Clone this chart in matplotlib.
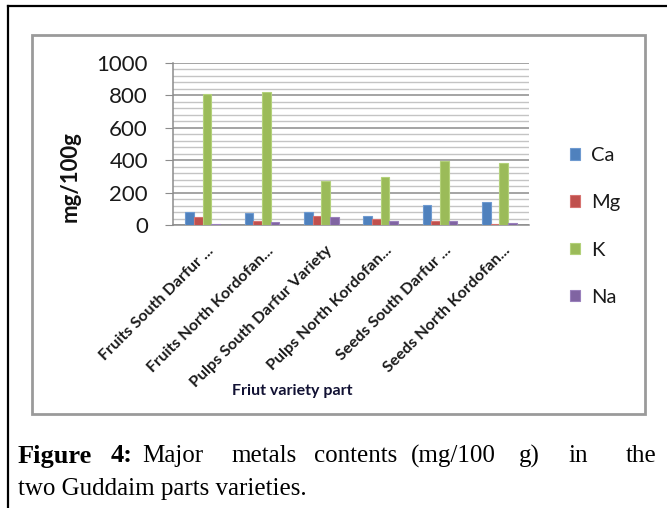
import numpy as np
import matplotlib.pyplot as plt
from matplotlib.patches import Rectangle
from matplotlib.lines import Line2D
import matplotlib.transforms as mtransforms

# data (mg/100g)
categories = ["Fruits South Darfur ...", "Fruits North Kordofan...",
              "Pulps South Darfur Variety", "Pulps North Kordofan...",
              "Seeds South Darfur ...", "Seeds North Kordofan..."]
metals = ["Ca", "Mg", "K", "Na"]
ca = [81, 72, 81, 58, 122, 139]
mg = [48, 23, 58, 39, 23, 8]
k = [807, 818, 271, 294, 393, 383]
na = [8, 17, 50, 23, 23, 10]
yticks = [0, 200, 400, 600, 800, 1000]

colors = ['#4F81BD', '#C0504D', '#9BBB59', '#8064A2']
edges = ['#6E9AD0', '#D77370', '#B3D17A', '#9A80BC']

plt.rcParams['font.family'] = ['Lato', 'DejaVu Sans']

fig = plt.figure(figsize=(6.67, 5.08), dpi=100)
W, H = 667, 508

# outer page frame (top + left) and grey chart box
fig.add_artist(Line2D([8 / W, 8 / W], [0, 1 - 6 / H], color='black', lw=1.6))
fig.add_artist(Line2D([8 / W, 1], [1 - 6 / H, 1 - 6 / H], color='black', lw=1.6))
fig.add_artist(Rectangle((32 / W, 1 - 414 / H), (645 - 32) / W, (414 - 35) / H,
                         fill=False, ec='#9a9a9a', lw=2))

ax = fig.add_axes([173 / W, 1 - 225 / H, (529 - 173) / W, (225 - 63) / H])

x = np.arange(len(categories))
bw = 0.145
series = [ca, mg, k, na]
for i, vals in enumerate(series):
    ax.bar(x + (i - 1.5) * bw, vals, bw, color=colors[i], edgecolor=edges[i],
           linewidth=0.8, label=metals[i], zorder=3)

ax.set_xlim(-0.5, len(categories) - 0.5)
ax.set_ylim(0, 1000)
ax.set_yticks(yticks)
ax.set_yticks(np.arange(0, 1001, 40), minor=True)
ax.grid(True, axis='y', which='major', color='#8c8c8c', lw=1.1, zorder=0)
ax.grid(True, axis='y', which='minor', color='#c4c4c4', lw=1.0, zorder=0)
for s in ['top', 'right']:
    ax.spines[s].set_visible(False)
ax.spines['left'].set_color('#8c8c8c')
ax.spines['bottom'].set_color('#8c8c8c')
ax.spines['left'].set_linewidth(1.1)
ax.spines['bottom'].set_linewidth(1.1)
ax.tick_params(axis='y', which='major', length=6, color='#8c8c8c', labelsize=16,
               labelcolor='#1a1a1a', pad=12)
ax.tick_params(axis='y', which='minor', length=0)
ax.tick_params(axis='x', length=0, pad=17)

ax.set_xticks(x)
ax.set_xticklabels(categories, rotation=45, ha='right', va='center',
                   rotation_mode='anchor', fontsize=11.6, fontweight='bold',
                   color='#1a1a1a')
offset = mtransforms.ScaledTranslation(9 / 100, 0, fig.dpi_scale_trans)
for lab in ax.get_xticklabels():
    lab.set_transform(lab.get_transform() + offset)

ax.set_ylabel("mg/100g", fontsize=16, fontweight='bold', color='#111111')
ax.yaxis.set_label_coords((81 - 173) / (529 - 173), (225 - 177) / (225 - 63))
fig.text(292 / W, 1 - 391 / H, "Friut variety part", fontsize=11.5, fontweight='bold',
         color='#111133', ha='center', va='center')

# legend
leg = fig.legend(loc='upper left', bbox_to_anchor=(552 / W, 1 - 129 / H),
                 frameon=False, fontsize=14.5, handlelength=0.5, handleheight=0.5,
                 handletextpad=0.55, labelspacing=1.5)
for t in leg.get_texts():
    t.set_color('#1a1a1a')

# caption, words spread as justified text
cap_y1 = 1 - 456 / H
cap_y2 = 1 - 489 / H
serif = ['Liberation Serif', 'DejaVu Serif']
fs = 18
fig.text(18 / W, cap_y1, "Figure", fontsize=fs + 1, fontweight='bold', family=serif,
         va='center')
fig.text(111 / W, cap_y1, "4:", fontsize=fs + 1, fontweight='bold', family=serif,
         va='center')
words = ["Major", "metals", "contents", "(mg/100", "g)", "in"]
word_x = [142, 231, 314, 411, 519, 568]
for w, wx in zip(words, word_x):
    fig.text(wx / W, cap_y1, w, fontsize=fs, family=serif, va='center')
fig.text(656 / W, cap_y1, "the", fontsize=fs, family=serif, va='center', ha='right')
fig.text(18 / W, cap_y2, "two Guddaim parts varieties.", fontsize=fs, family=serif,
         va='center')

fig.savefig("out.png", dpi=100)
